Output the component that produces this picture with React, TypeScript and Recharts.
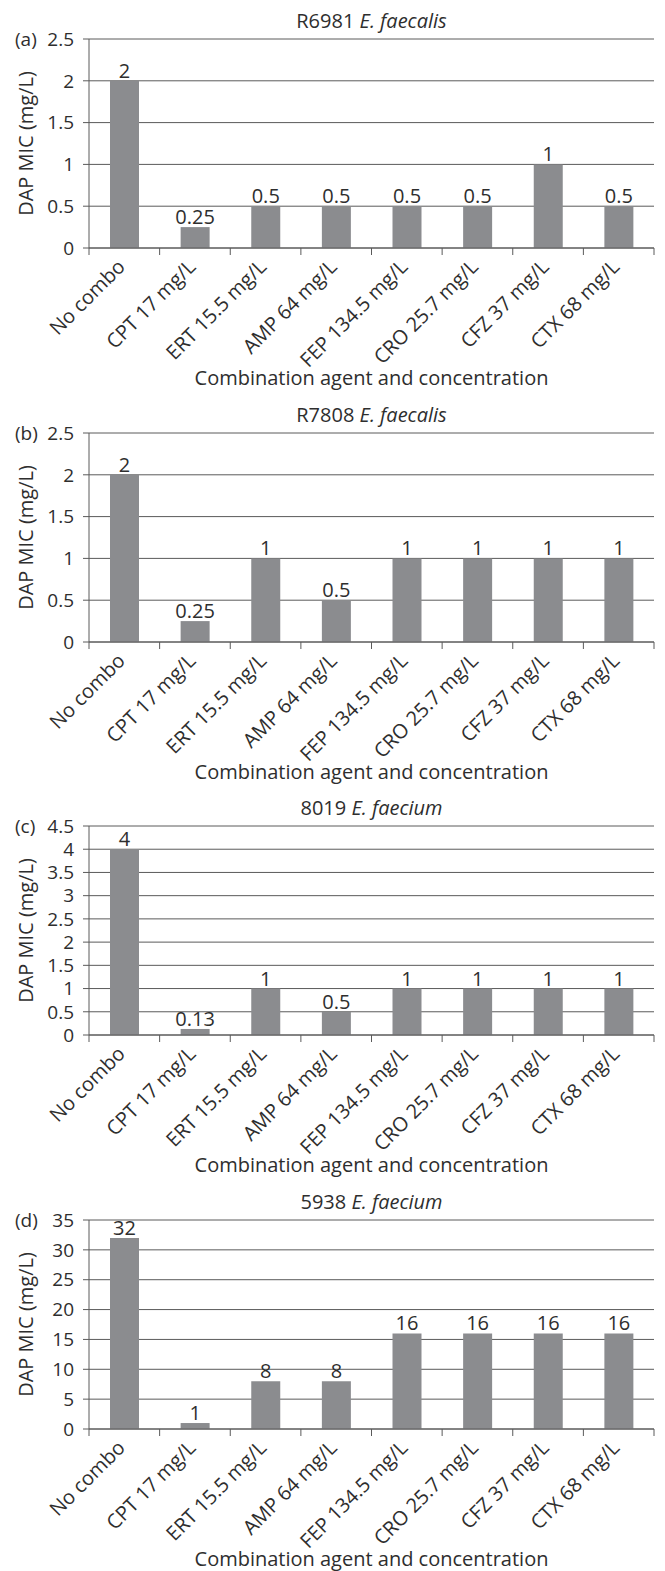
import React from 'react';
import { BarChart, Bar, XAxis, YAxis, CartesianGrid, LabelList } from 'recharts';

const categories = [
  'No combo',
  'CPT 17 mg/L',
  'ERT 15.5 mg/L',
  'AMP 64 mg/L',
  'FEP 134.5 mg/L',
  'CRO 25.7 mg/L',
  'CFZ 37 mg/L',
  'CTX 68 mg/L',
];

const valuesA = [2, 0.25, 0.5, 0.5, 0.5, 0.5, 1, 0.5];
const valuesB = [2, 0.25, 1, 0.5, 1, 1, 1, 1];
const valuesC = [4, 0.13, 1, 0.5, 1, 1, 1, 1];
const valuesD = [32, 1, 8, 8, 16, 16, 16, 16];

const ticksAB = [0, 0.5, 1, 1.5, 2, 2.5];
const ticksC = [0, 0.5, 1, 1.5, 2, 2.5, 3, 3.5, 4, 4.5];
const ticksD = [0, 5, 10, 15, 20, 25, 30, 35];

const panelLetters = ['(a)', '(b)', '(c)', '(d)'];
const strainIds = ['R6981', 'R7808', '8019', '5938'];
const species = ['E. faecalis', 'E. faecalis', 'E. faecium', 'E. faecium'];

const yLabel = 'DAP MIC (mg/L)';
const xLabel = 'Combination agent and concentration';

const FONT = "'Open Sans', sans-serif";
const TEXT = '#2e2e2e';
const BAR = '#8b8c8f';
const LINE = '#5a5a5a';
const FS = 20;
const TICK_FS = 19;

const W = 665;
const H = 394;
const PLOT_LEFT = 89;
const PLOT_RIGHT = 654;
const PLOT_TOP = 39;
const PLOT_BOTTOM = 248;

const CatTick = (props: any) => {
  const { x, y, payload, index, visibleTicksCount } = props;
  const half = payload && typeof payload.offset === 'number' ? payload.offset : 0;
  const last = index === (visibleTicksCount ?? categories.length) - 1;
  return (
    <g>
      <line x1={x - half} x2={x - half} y1={y} y2={y + 7} stroke={LINE} />
      {last && <line x1={x + half} x2={x + half} y1={y} y2={y + 7} stroke={LINE} />}
      <g transform={`translate(${x + 2},${y + 20}) rotate(-45)`}>
        <text x={0} y={0} textAnchor="end" fill={TEXT} fontSize={FS} fontFamily={FONT}>
          {payload.value}
        </text>
      </g>
    </g>
  );
};

type PanelProps = {
  values: number[];
  ticks: number[];
  letter: string;
  strain: string;
  sp: string;
};

const Panel = ({ values, ticks, letter, strain, sp }: PanelProps) => {
  const data = categories.map((name, i) => ({ name, v: values[i] }));
  const cx = (PLOT_LEFT + PLOT_RIGHT) / 2;
  const cy = (PLOT_TOP + PLOT_BOTTOM) / 2;
  return (
    <div style={{ position: 'relative', width: W, height: H }}>
      <BarChart
        width={W}
        height={H}
        data={data}
        margin={{ top: PLOT_TOP, right: W - PLOT_RIGHT, bottom: 0, left: 0 }}
      >
        <CartesianGrid vertical={false} stroke={LINE} strokeWidth={1} />
        <XAxis
          dataKey="name"
          interval={0}
          height={H - PLOT_BOTTOM}
          tickSize={0}
          tickMargin={0}
          tickLine={false}
          axisLine={{ stroke: LINE }}
          tick={<CatTick />}
        />
        <YAxis
          type="number"
          domain={[0, ticks[ticks.length - 1]]}
          ticks={ticks}
          interval={0}
          width={PLOT_LEFT}
          tickSize={6}
          tickMargin={9}
          axisLine={{ stroke: LINE }}
          tickLine={{ stroke: LINE }}
          tick={{ fill: TEXT, fontSize: TICK_FS, fontFamily: FONT }}
        />
        <Bar dataKey="v" fill={BAR} barSize={29} isAnimationActive={false}>
          <LabelList dataKey="v" position="top" offset={3} fill={TEXT} fontSize={FS} fontFamily={FONT} />
        </Bar>
      </BarChart>
      <svg
        width={W}
        height={H}
        style={{ position: 'absolute', left: 0, top: 0, pointerEvents: 'none' }}
      >
        <text x={cx} y={28} textAnchor="middle" fill={TEXT} fontSize={FS} fontFamily={FONT}>
          {strain} <tspan fontStyle="italic">{sp}</tspan>
        </text>
        <text x={15} y={PLOT_TOP + 7} fill={TEXT} fontSize={TICK_FS} fontFamily={FONT}>
          {letter}
        </text>
        <text
          x={33}
          y={cy}
          transform={`rotate(-90 33 ${cy})`}
          textAnchor="middle"
          fill={TEXT}
          fontSize={FS}
          fontFamily={FONT}
        >
          {yLabel}
        </text>
        <text x={cx} y={385} textAnchor="middle" fill={TEXT} fontSize={FS} fontFamily={FONT}>
          {xLabel}
        </text>
      </svg>
    </div>
  );
};

export default function App() {
  const panels = [
    { values: valuesA, ticks: ticksAB },
    { values: valuesB, ticks: ticksAB },
    { values: valuesC, ticks: ticksC },
    { values: valuesD, ticks: ticksD },
  ];
  return (
    <div style={{ position: 'absolute', left: 0, top: 0, width: W, height: 1571, background: '#fff' }}>
      {panels.map((p, i) => (
        <div key={i} style={{ position: 'absolute', left: 0, top: i * 393.7, width: W, height: H }}>
          <Panel
            values={p.values}
            ticks={p.ticks}
            letter={panelLetters[i]}
            strain={strainIds[i]}
            sp={species[i]}
          />
        </div>
      ))}
    </div>
  );
}
